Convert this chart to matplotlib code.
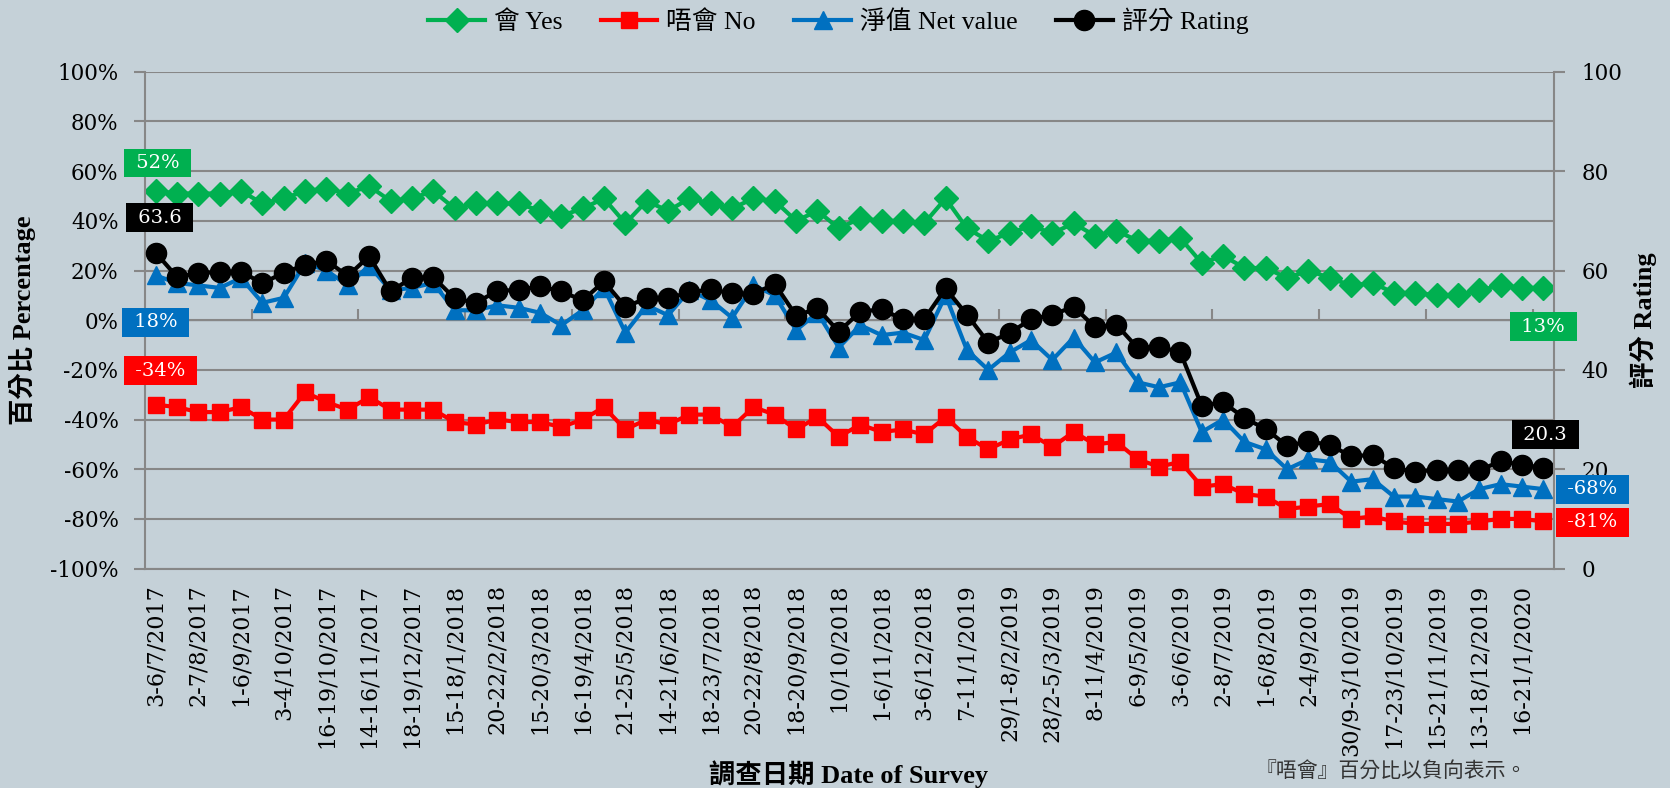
import matplotlib
matplotlib.use('Agg')
import matplotlib.pyplot as plt
import numpy as np

# survey dates shown on the axis (every second survey)
date_labels = [
    '3-6/7/2017', '2-7/8/2017', '1-6/9/2017', '3-4/10/2017', '16-19/10/2017',
    '14-16/11/2017', '18-19/12/2017', '15-18/1/2018', '20-22/2/2018', '15-20/3/2018',
    '16-19/4/2018', '21-25/5/2018', '14-21/6/2018', '18-23/7/2018', '20-22/8/2018',
    '18-20/9/2018', '10/10/2018', '1-6/11/2018', '3-6/12/2018', '7-11/1/2019',
    '29/1-8/2/2019', '28/2-5/3/2019', '8-11/4/2019', '6-9/5/2019', '3-6/6/2019',
    '2-8/7/2019', '1-6/8/2019', '2-4/9/2019', '30/9-3/10/2019', '17-23/10/2019',
    '15-21/11/2019', '13-18/12/2019', '16-21/1/2020',
]

yes = [52, 51, 51, 51, 52, 47, 49, 52, 53, 51, 54, 48, 49, 52, 45, 47, 47, 47, 44, 42,
       45, 49, 39, 48, 44, 49, 47, 45, 49, 48, 40, 44, 37, 41, 40, 40, 39, 49, 37, 32,
       35, 38, 35, 39, 34, 36, 32, 32, 33, 23, 26, 21, 21, 17, 20, 17, 14, 15, 11, 11,
       10, 10, 12, 14, 13, 13]
no = [-34, -35, -37, -37, -35, -40, -40, -29, -33, -36, -31, -36, -36, -36, -41, -42, -40, -41, -41, -43,
      -40, -35, -44, -40, -42, -38, -38, -43, -35, -38, -44, -39, -47, -42, -45, -44, -46, -39, -47, -52,
      -48, -46, -51, -45, -50, -49, -56, -59, -57, -67, -66, -70, -71, -76, -75, -74, -80, -79, -81, -82,
      -82, -82, -81, -80, -80, -81]
net = [18, 15, 14, 13, 17, 7, 9, 23, 20, 14, 22, 12, 13, 15, 4, 4, 6, 5, 3, -2,
       4, 13, -5, 6, 2, 12, 8, 1, 14, 10, -4, 3, -11, -2, -6, -5, -8, 10, -12, -20,
       -13, -8, -16, -7, -17, -13, -25, -27, -25, -45, -40, -49, -52, -60, -56, -57, -65, -64, -71, -71,
       -72, -73, -68, -66, -67, -68]
rating = [63.6, 58.7, 59.5, 59.7, 59.8, 57.4, 59.6, 61.1, 62.0, 58.9, 62.9, 55.8, 58.5, 58.7, 54.4,
          53.5, 55.9, 56.1, 56.8, 55.8, 54.0, 57.8, 52.7, 54.4, 54.4, 55.6, 56.2, 55.4, 55.3, 57.3,
          50.9, 52.4, 47.7, 51.7, 52.2, 50.2, 50.2, 56.4, 51.1, 45.5, 47.4, 50.2, 51.1, 52.7, 48.6,
          49.1, 44.4, 44.7, 43.5, 32.8, 33.5, 30.3, 28.1, 24.7, 25.6, 24.9, 22.6, 22.9, 20.2, 19.5,
          19.9, 19.8, 19.8, 21.6, 20.9, 20.3]

BG = '#C5D1D8'
GRID = '#878787'
GREEN = '#00B050'
RED = '#FF0000'
BLUE = '#0070C0'
BLACK = '#000000'
CJK_SERIF = ['Liberation Serif', 'Noto Sans CJK TC']

plt.rcParams['font.family'] = ['DejaVu Serif', 'Noto Sans CJK TC']

W, H = 1670, 788
fig = plt.figure(figsize=(W / 100, H / 100), dpi=100, facecolor=BG)
ax = fig.add_axes([145 / W, 1 - 568.6 / H, 1409 / W, (568.6 - 71.8) / H])
ax.set_facecolor(BG)

x = np.arange(len(yes))
ax.plot(x, yes, color=GREEN, marker='D', ms=12, lw=3, label='會 Yes')
ax.plot(x, no, color=RED, marker='s', ms=11, lw=3, label='唔會 No')
ax.plot(x, net, color=BLUE, marker='^', ms=13.5, lw=3, label='淨值 Net value')

ax2 = ax.twinx()
ax2.plot(x, rating, color=BLACK, marker='o', ms=14.5, lw=3, label='評分 Rating')

# axes ranges and ticks
ax.set_xlim(-0.5, len(x) - 0.5)
ax.set_ylim(-100, 100)
ax2.set_ylim(0, 100)
ax.set_yticks(np.arange(-100, 101, 20))
ax.set_yticklabels([f'{v}%' for v in range(-100, 101, 20)])
ax2.set_yticks(np.arange(0, 101, 20))
ax.set_xticks(np.arange(0, len(x), 2))
ax.set_xticklabels(date_labels, rotation=90)

ax.grid(axis='y', color=GRID, lw=1.5)
ax.set_axisbelow(True)
ax.tick_params(axis='y', length=8, width=1.5, color=GRID, pad=11, labelsize=15.5)
ax2.tick_params(axis='y', length=8, width=1.5, color=GRID, pad=12, labelsize=15.5)
ax.tick_params(axis='x', length=0, pad=11, labelsize=16)

for a in (ax, ax2):
    a.spines['top'].set_visible(False)
ax.spines['right'].set_visible(False)
ax2.spines['left'].set_visible(False)
ax2.spines['bottom'].set_visible(False)
for s in ('left', 'bottom'):
    ax.spines[s].set_color(GRID)
    ax.spines[s].set_linewidth(1.5)
ax2.spines['right'].set_color(GRID)
ax2.spines['right'].set_linewidth(1.5)

# category axis crosses at 0%: tick marks every 5 surveys
sec = ax.secondary_xaxis(0.5)
sec.set_xticks(np.arange(-0.5, len(x), 5))
sec.set_xticklabels([])
sec.tick_params(axis='x', length=8, width=1.5, color=GRID, direction='out')
sec.spines['bottom'].set_visible(False)

# first / last value labels
def box_label(text, xv, yv, dx, dy, color, coords):
    ax2.annotate(f' {text} ', xy=(xv, yv), xycoords=coords,
                 xytext=(dx, dy), textcoords='offset pixels',
                 ha='center', va='center', color='white', fontsize=14,
                 bbox=dict(boxstyle='square,pad=0.28', fc=color, ec='none'),
                 annotation_clip=False, zorder=10)

first, last = 0, len(x) - 1
box_label(f'{yes[first]}%', first, yes[first], 2, 28, GREEN, ax.transData)
box_label(f'{rating[first]}', first, rating[first], 4, 35, BLACK, ax2.transData)
box_label(f'{net[first]}%', first, net[first], 0, -47, BLUE, ax.transData)
box_label(f'{no[first]}%', first, no[first], 5, 34, RED, ax.transData)
box_label(f'{yes[last]}%', last, yes[last], 0, -39, GREEN, ax.transData)
box_label(f'{rating[last]}', last, rating[last], 2, 33, BLACK, ax2.transData)
box_label(f'{net[last]}%', last, net[last], 49, 0, BLUE, ax.transData)
box_label(f'{no[last]}%', last, no[last], 49, -1, RED, ax.transData)

# legend
handles = ax.get_lines()[:3] + ax2.get_lines()[:1]
fig.legend(handles, [h.get_label() for h in handles], loc='center',
           bbox_to_anchor=(0.502, 1 - 21 / H), ncol=4, frameon=False,
           prop={'family': CJK_SERIF, 'size': 18.5}, numpoints=1,
           handlelength=2.2, handletextpad=0.35, columnspacing=1.5)

# axis titles and note
fig.text(23 / W, 1 - 320 / H, '百分比 Percentage', rotation=90, ha='center', va='center',
         family=CJK_SERIF, fontsize=19, fontweight='bold')
fig.text(1643 / W, 1 - 320 / H, '評分 Rating', rotation=90, ha='center', va='center',
         family=CJK_SERIF, fontsize=19, fontweight='bold')
fig.text(849 / W, 1 - 774 / H, '調查日期 Date of Survey', ha='center', va='center',
         family=CJK_SERIF, fontsize=19, fontweight='bold')
fig.text(1255 / W, 1 - 771 / H, '『唔會』百分比以負向表示。', ha='left', va='center',
         family=['Noto Sans CJK TC'], fontsize=15, color='#333333')

fig.savefig('out.png', dpi=100, facecolor=BG)
